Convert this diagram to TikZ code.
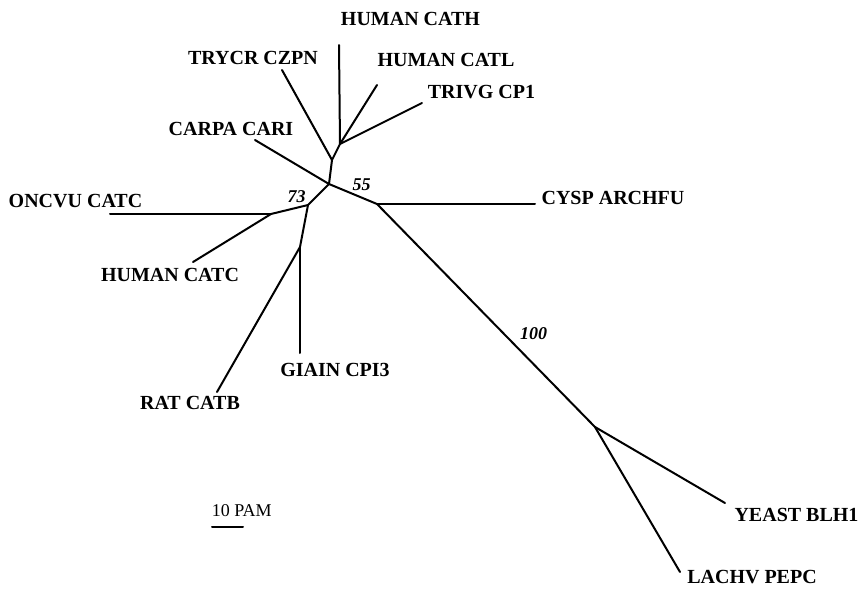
\documentclass[tikz,border=0pt]{standalone}
\usepackage{fontspec}
\setmainfont{Liberation Serif}
\usetikzlibrary{calc}

\tikzset{
  taxon/.style={font=\bfseries, inner sep=0pt},
  boot/.style={font=\small\bfseries\itshape, inner sep=0pt},
  branch/.style={black, line width=1pt, line cap=round, line join=round}
}

\begin{document}
\begin{tikzpicture}[x=.5pt, y=-.5pt]
\useasboundingbox (0,0) rectangle (864,595);
% inner nodes
\coordinate (A) at (340,144);
\coordinate (B) at (332,160);
\coordinate (C) at (329,184);
\coordinate (D) at (308,205);
\coordinate (E) at (377,204);
\coordinate (F) at (271,214);
\coordinate (G) at (300,247);
\coordinate (H) at (595,427);
% leaf ends
\coordinate (cath) at (339,45);
\coordinate (catl) at (377,85);
\coordinate (trivg) at (422,103);
\coordinate (trycr) at (282,70);
\coordinate (carpa) at (255,140);
\coordinate (oncvu) at (110,214);
\coordinate (hcatc) at (193,262);
\coordinate (giain) at (300,353);
\coordinate (ratb) at (217,392);
\coordinate (cysp) at (535,204);
\coordinate (yeast) at (725,503);
\coordinate (lachv) at (680,572);
\foreach \a/\b in {A/cath, A/catl, A/trivg, A/B, B/trycr, B/C, C/carpa, C/D, C/E,
  D/F, F/oncvu, F/hcatc, D/G, G/giain, G/ratb, E/cysp, E/H, H/yeast, H/lachv}
 \draw[branch] (\a) -- (\b);
% names of the sequences
\node[taxon] (lcath) at (410.5,18.5) {HUMAN CATH};
\node[taxon] (ltrycr) at (253,58) {TRYCR CZPN};
\node[taxon] (lcatl) at (446,59.5) {HUMAN CATL};
\node[taxon] (ltrivg) at (481.5,92.5) {TRIVG CP1};
\node[taxon] (lcarpa) at (231,128.5) {CARPA CARI};
\node[taxon] (loncvu) at (75.5,201.5) {ONCVU CATC};
\node[taxon] (lhcatc) at (170,274.5) {HUMAN CATC};
\node[taxon] (lgiain) at (335,369.5) {GIAIN CPI3};
\node[taxon] (lratb) at (190,403) {RAT CATB};
\node[taxon] (lcysp) at (613,197.5) {CYSP ARCHFU};
\node[taxon] (lyeast) at (796.5,514.5) {YEAST BLH1};
\node[taxon] (llachv) at (752,577.5) {LACHV PEPC};
% bootstrap values
\node[boot] (b55) at (361.7,185) {55};
\node[boot] (b73) at (296.7,196.7) {73};
\node[boot] (b100) at (533.7,333.5) {100};
% scale
\coordinate (s0) at (212,527);
\coordinate (s1) at (243,527);
\draw[branch] (s0) -- (s1);
\node[font=\small, inner sep=0pt] (pam) at (241.7,511) {10 PAM};
\end{tikzpicture}
\end{document}
